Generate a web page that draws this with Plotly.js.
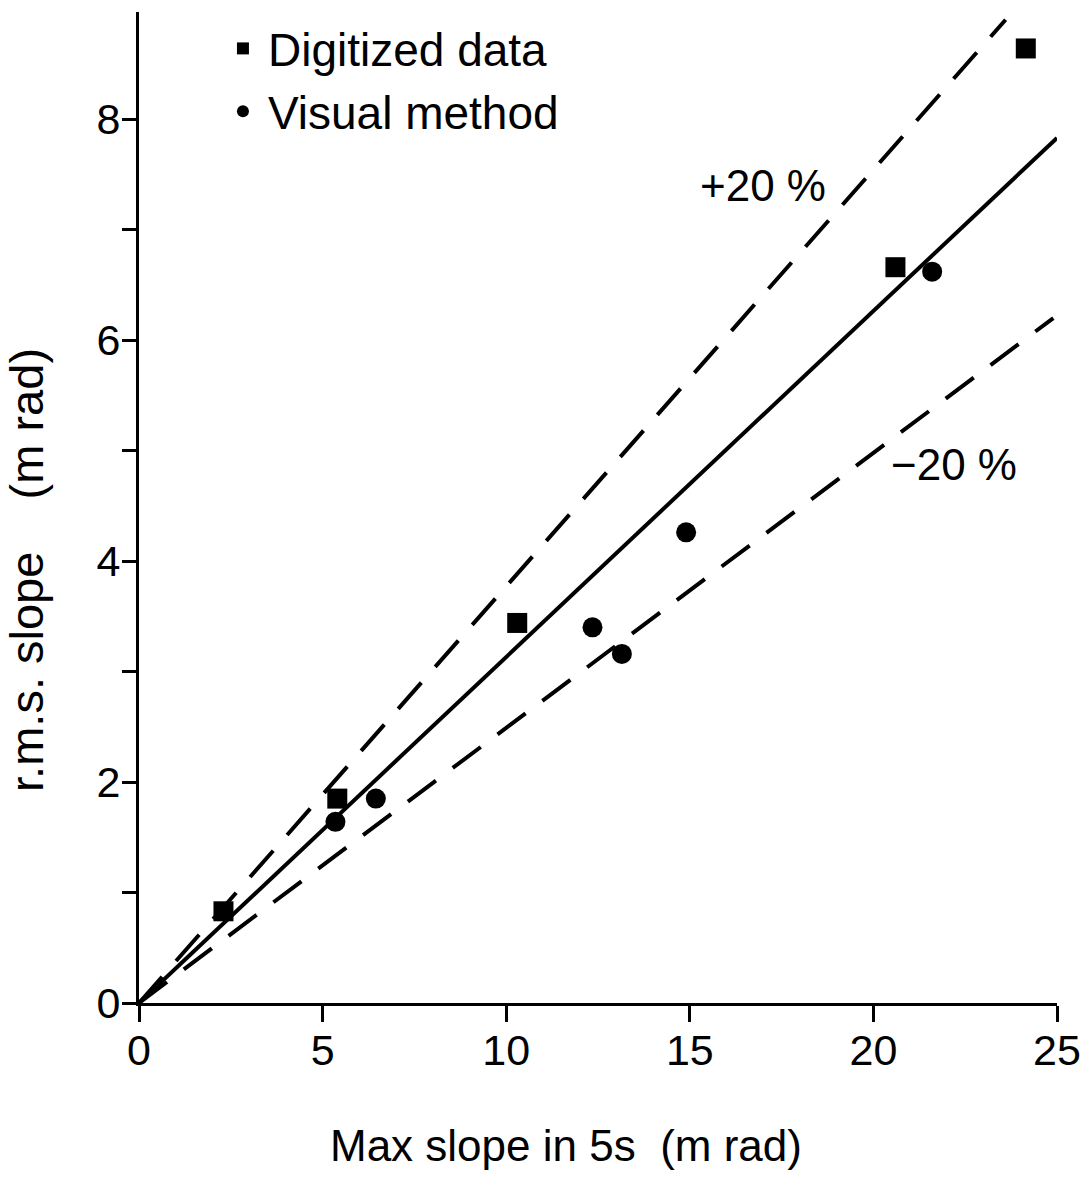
<!DOCTYPE html>
<html>
<head>
<meta charset="utf-8">
<script src="https://cdn.plot.ly/plotly-3.0.1.min.js"></script>
<style>
  html, body { margin: 0; padding: 0; background: #ffffff; }
  #chart { width: 1089px; height: 1183px; }
</style>
</head>
<body>
<div id="chart"></div>
<script>
// ---- data ----
const digitizedX = [2.3, 5.4, 10.3, 20.6, 24.15];
const digitizedY = [0.83, 1.85, 3.44, 6.66, 8.64];

const visualX = [5.35, 6.45, 12.35, 13.15, 14.9, 21.6];
const visualY = [1.64, 1.85, 3.40, 3.16, 4.26, 6.62];

// reference lines (end points)
const fitX = [0, 25];
const fitY = [0, 7.83];
const plus20X = [0, 23.6];
const plus20Y = [0, 8.9];
const minus20X = [0, 24.9];
const minus20Y = [0, 6.2];

const xTickVals = [0, 5, 10, 15, 20, 25];
const yTickVals = [0, 2, 4, 6, 8];

const legendNames = ['Digitized data', 'Visual method'];
const lineLabels = ['+20\u00a0%', '\u221220\u00a0%'];
const lineLabelX = [17.0, 22.2];
const lineLabelY = [7.40, 4.87];
const xTitle = 'Max slope in 5s\u00a0\u00a0(m\u00a0rad)';
const yTitle = 'r.m.s. slope\u00a0\u00a0\u00a0\u00a0(m\u00a0rad)';

const FONT = '"Liberation Sans", Arial, Helvetica, sans-serif';

const traces = [
  { x: fitX, y: fitY, mode: 'lines', showlegend: false, hoverinfo: 'skip',
    line: { color: '#000', width: 4 } },
  { x: plus20X, y: plus20Y, mode: 'lines', showlegend: false, hoverinfo: 'skip',
    line: { color: '#000', width: 4, dash: '35px,21px' } },
  { x: minus20X, y: minus20Y, mode: 'lines', showlegend: false, hoverinfo: 'skip',
    line: { color: '#000', width: 4, dash: '35px,21px' } },
  { x: digitizedX, y: digitizedY, mode: 'markers', name: legendNames[0], legendgroup: 'a',
    marker: { symbol: 'square', size: 20, color: '#000' } },
  { x: visualX, y: visualY, mode: 'markers', name: legendNames[1], legendgroup: 'b',
    marker: { symbol: 'circle', size: 20, color: '#000' } }
];

const annotations = [
  { x: lineLabelX[0], y: lineLabelY[0], xref: 'x', yref: 'y', text: lineLabels[0],
    showarrow: false, font: { family: FONT, size: 44, color: '#000' } },
  { x: lineLabelX[1], y: lineLabelY[1], xref: 'x', yref: 'y', text: lineLabels[1],
    showarrow: false, font: { family: FONT, size: 44, color: '#000' } },
  { x: 0.465, y: -0.144, xref: 'paper', yref: 'paper', text: xTitle,
    showarrow: false, xanchor: 'center', yanchor: 'middle',
    font: { family: FONT, size: 44, color: '#000' } },
  { x: -0.122, y: 0.437, xref: 'paper', yref: 'paper', text: yTitle, textangle: -90,
    showarrow: false, xanchor: 'center', yanchor: 'middle',
    font: { family: FONT, size: 47, color: '#000' } }
];

const layout = {
  width: 1089, height: 1183,
  margin: { l: 139, r: 32, t: 12, b: 180 },
  paper_bgcolor: '#fff', plot_bgcolor: '#fff',
  font: { family: FONT, color: '#000' },
  showlegend: true,
  legend: {
    x: 0.086, y: 1.0, xanchor: 'left', yanchor: 'top',
    bgcolor: 'rgba(0,0,0,0)', borderwidth: 0,
    font: { family: FONT, size: 46, color: '#000' },
    traceorder: 'grouped', tracegroupgap: 0,
    itemsizing: 'constant', itemwidth: 40
  },
  xaxis: {
    range: [0, 25], tickvals: xTickVals, ticktext: xTickVals.map(String),
    showgrid: false, zeroline: false, showline: true, linewidth: 3, linecolor: '#000',
    ticks: 'outside', ticklen: 16, tickwidth: 3, tickcolor: '#000', ticklabelstandoff: -9,
    tickfont: { family: FONT, size: 43, color: '#000' }, fixedrange: true
  },
  yaxis: {
    range: [0, 8.97], tickvals: yTickVals, ticktext: yTickVals.map(String),
    showgrid: false, zeroline: false, showline: true, linewidth: 3, linecolor: '#000',
    ticks: 'outside', ticklen: 14, tickwidth: 3, tickcolor: '#000', ticklabelstandoff: -7,
    minor: { dtick: 1, ticks: 'outside', ticklen: 14, tickwidth: 3, tickcolor: '#000', showgrid: false },
    tickfont: { family: FONT, size: 43, color: '#000' }, fixedrange: true
  },
  annotations: annotations
};

Plotly.newPlot('chart', traces, layout, { displayModeBar: false, staticPlot: true });
</script>
</body>
</html>
